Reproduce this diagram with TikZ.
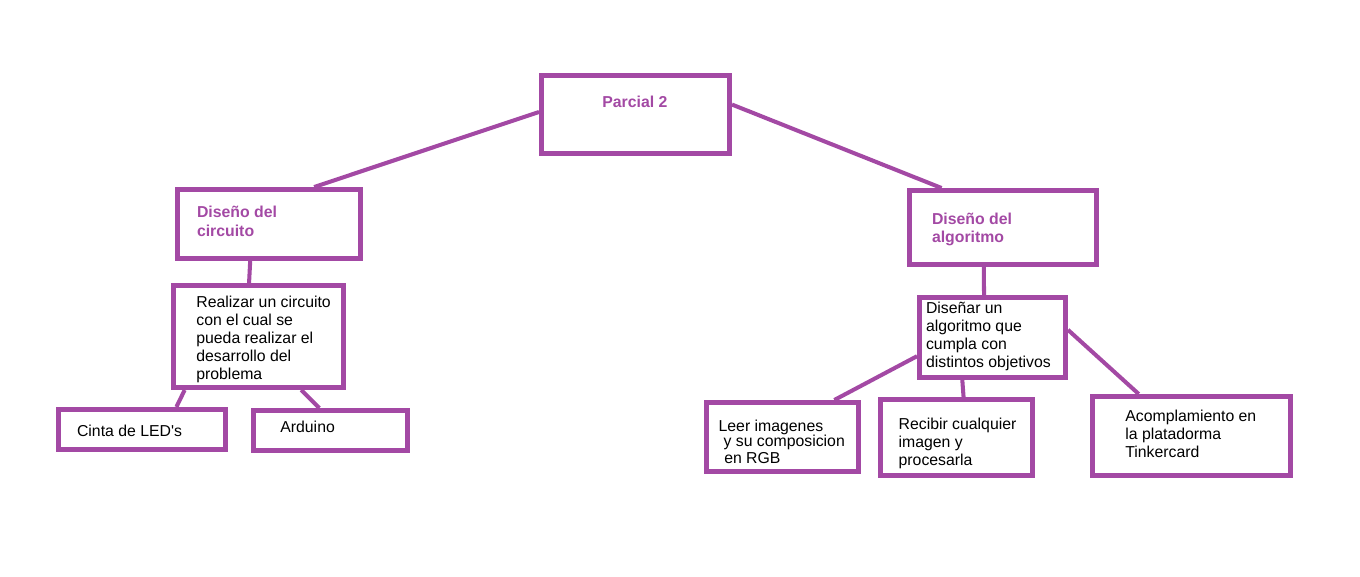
\documentclass[tikz,border=0pt]{standalone}
\usepackage{fontspec}
\setmainfont{Liberation Sans}
\usepackage{xcolor}
\usetikzlibrary{calc,positioning}
\definecolor{paintpurple}{RGB}{163,73,164}

\begin{document}
\begin{tikzpicture}[
  x=0.02cm, y=-0.02cm,
  box/.style={rectangle, draw=paintpurple, line width=2.85pt, inner sep=0pt},
  link/.style={draw=paintpurple, line width=2.3pt},
  txt/.style={anchor=base west, inner sep=0pt, align=left, font=\fontsize{9}{10.2}\selectfont},
  head/.style={txt, text=paintpurple, font=\fontsize{9}{10.4}\selectfont\bfseries}
]
  \useasboundingbox (0,0) rectangle (1360,576);

  % boxes
  \node[box, minimum width=3.76cm, minimum height=1.56cm] (parcial) at (635.5,114.5) {};
  \node[box, minimum width=3.66cm, minimum height=1.38cm] (circuito) at (269,224) {};
  \node[box, minimum width=3.74cm, minimum height=1.48cm] (algoritmo) at (1003,227.5) {};
  \node[box, minimum width=3.40cm, minimum height=2.04cm] (realizar) at (258.5,336.5) {};
  \node[box, minimum width=3.34cm, minimum height=0.80cm] (cinta) at (142,429.5) {};
  \node[box, minimum width=3.08cm, minimum height=0.80cm] (arduino) at (330.5,430.5) {};
  \node[box, minimum width=2.92cm, minimum height=1.60cm] (disenar) at (992.5,337.5) {};
  \node[box, minimum width=3.04cm, minimum height=1.38cm] (leer) at (782.5,437) {};
  \node[box, minimum width=3.04cm, minimum height=1.52cm] (recibir) at (956.5,437.5) {};
  \node[box, minimum width=3.96cm, minimum height=1.58cm] (acompl) at (1191.5,436) {};

  % texts (multi-line: placed at the baseline of the last line)
  \node[head] (parcialtxt) at (602,107.3) {Parcial 2};
  \node[head] (circuitotxt) at (196.7,236) {Diseño del\\circuito};
  \node[head] (algoritmotxt) at (931.7,242.7) {Diseño del\\algoritmo};
  \node[txt] (realizartxt) at (196,379.3) {Realizar un circuito\\con el cual se\\pueda realizar el\\desarrollo del\\problema};
  \node[txt] (cintatxt) at (76.7,436.7) {Cinta de LED\textquotesingle s};
  \node[txt] (arduinotxt) at (280,432.3) {Arduino};
  \node[txt] (disenartxt) at (925.7,367.3) {Diseñar un\\algoritmo que\\cumpla con\\distintos objetivos};
  \node[txt] (leertxt) at (718.3,463.3) {Leer imagenes\\[-2.1pt]\hspace*{2.8pt}y su composicion\\[-0.4pt]\hspace*{3.2pt}en RGB};
  \node[txt] (recibirtxt) at (898.3,465.7) {Recibir cualquier\\imagen y\\procesarla};
  \node[txt] (acompltxt) at (1125,457.7) {Acomplamiento en\\la platadorma\\Tinkercard};

  % connectors
  \draw[link] ($(parcial.north west)!0.47!(parcial.south west)$) -- ($(circuito.north west)!0.74!(circuito.north east)$);
  \draw[link] ($(parcial.north east)!0.38!(parcial.south east)$) -- ($(algoritmo.north west)!0.18!(algoritmo.north east)$);
  \draw[link] ($(circuito.south west)!0.40!(circuito.south east)$) -- ($(realizar.north west)!0.446!(realizar.north east)$);
  \draw[link] ($(algoritmo.south west)!0.40!(algoritmo.south east)$) -- ($(disenar.north west)!0.444!(disenar.north east)$);
  \draw[link] ($(realizar.south west)!0.078!(realizar.south east)$) -- ($(cinta.north west)!0.70!(cinta.north east)$);
  \draw[link] ($(realizar.south west)!0.744!(realizar.south east)$) -- ($(arduino.north west)!0.43!(arduino.north east)$);
  \draw[link] ($(disenar.north west)!0.72!(disenar.south west)$) -- ($(leer.north west)!0.83!(leer.north east)$);
  \draw[link] ($(disenar.south west)!0.30!(disenar.south east)$) -- ($(recibir.north west)!0.545!(recibir.north east)$);
  \draw[link] ($(disenar.north east)!0.41!(disenar.south east)$) -- ($(acompl.north west)!0.24!(acompl.north east)$);
\end{tikzpicture}
\end{document}
